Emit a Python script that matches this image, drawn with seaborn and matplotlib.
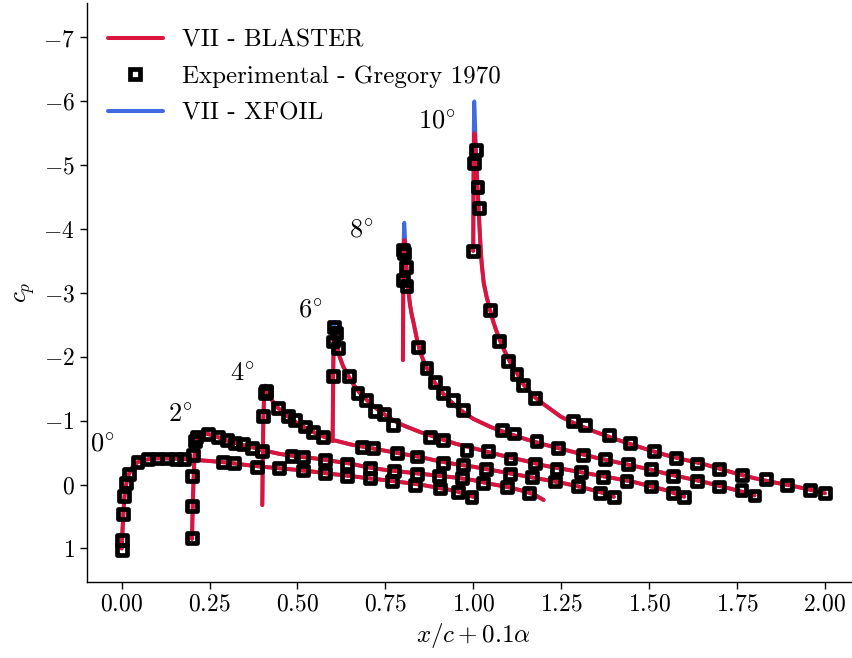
import numpy as np
import pandas as pd
import matplotlib
matplotlib.use("Agg")
import matplotlib.pyplot as plt
import seaborn as sns
from matplotlib.lines import Line2D

# ---------------- data (x/c, cp) per angle of attack ----------------
ALPHAS = [0, 2, 4, 6, 8, 10]

X_BL_0 = [0.0, 0.001, 0.0025, 0.005, 0.0075, 0.01, 0.015, 0.02, 0.03, 0.045, 0.06, 0.08, 0.1, 0.13, 0.16, 0.2,
          0.25, 0.3, 0.35, 0.4, 0.45, 0.5, 0.55, 0.6, 0.65, 0.7, 0.75, 0.8, 0.85, 0.9, 0.95, 1.0]
CP_BL_0 = [1.0, 0.9, 0.7, 0.45, 0.22, 0.08, -0.06, -0.16, -0.27, -0.35, -0.38, -0.40, -0.41, -0.41, -0.405, -0.39,
           -0.37, -0.345, -0.31, -0.28, -0.255, -0.23, -0.2, -0.165, -0.135, -0.10, -0.07, -0.035, 0.0, 0.05, 0.1, 0.19]
CP_XF_0 = [1.0, 0.9, 0.7, 0.45, 0.22, 0.08, -0.06, -0.16, -0.27, -0.35, -0.38, -0.40, -0.41, -0.41, -0.405, -0.39,
           -0.37, -0.345, -0.31, -0.28, -0.255, -0.23, -0.2, -0.165, -0.135, -0.10, -0.07, -0.035, 0.0, 0.05, 0.1, 0.19]

X_BL_2 = [0.0, 0.001, 0.0025, 0.005, 0.0075, 0.01, 0.015, 0.02, 0.03, 0.045, 0.06, 0.08, 0.1, 0.125, 0.15, 0.175,
          0.2, 0.25, 0.3, 0.35, 0.4, 0.45, 0.5, 0.55, 0.6, 0.65, 0.7, 0.75, 0.8, 0.85, 0.9, 0.95, 0.975, 1.0]
CP_BL_2 = [0.85, 0.6, 0.25, -0.15, -0.45, -0.62, -0.74, -0.79, -0.81, -0.79, -0.77, -0.73, -0.69, -0.65, -0.61, -0.58,
           -0.54, -0.48, -0.44, -0.41, -0.37, -0.33, -0.27, -0.23, -0.20, -0.17, -0.14, -0.11, -0.07, -0.01, 0.04, 0.11,
           0.16, 0.24]
CP_XF_2 = [0.85, 0.6, 0.25, -0.16, -0.47, -0.64, -0.76, -0.80, -0.82, -0.80, -0.77, -0.73, -0.69, -0.65, -0.61, -0.58,
           -0.54, -0.48, -0.44, -0.41, -0.37, -0.33, -0.27, -0.23, -0.20, -0.17, -0.14, -0.11, -0.07, -0.01, 0.04, 0.11,
           0.16, 0.24]

X_BL_4 = [0.0, 0.001, 0.002, 0.003, 0.005, 0.0075, 0.01, 0.0125, 0.015, 0.02, 0.03, 0.045, 0.06, 0.075, 0.1, 0.125,
          0.15, 0.175, 0.2, 0.25, 0.3, 0.35, 0.4, 0.45, 0.5, 0.55, 0.6, 0.65, 0.7, 0.75, 0.8, 0.85, 0.9, 0.95, 0.975, 1.0]
CP_BL_4 = [0.32, -0.2, -0.65, -1.0, -1.35, -1.5, -1.52, -1.5, -1.46, -1.4, -1.3, -1.2, -1.12, -1.06, -0.96, -0.88,
           -0.81, -0.75, -0.70, -0.63, -0.58, -0.53, -0.48, -0.43, -0.37, -0.32, -0.28, -0.23, -0.18, -0.13, -0.08,
           -0.03, 0.03, 0.10, 0.14, 0.19]
CP_XF_4 = [0.32, -0.2, -0.68, -1.05, -1.40, -1.55, -1.55, -1.51, -1.47, -1.4, -1.3, -1.2, -1.12, -1.06, -0.96, -0.88,
           -0.81, -0.75, -0.70, -0.63, -0.58, -0.53, -0.48, -0.43, -0.37, -0.32, -0.28, -0.23, -0.18, -0.13, -0.08,
           -0.03, 0.03, 0.10, 0.14, 0.19]

X_BL_6 = [0.0, 0.001, 0.002, 0.003, 0.004, 0.005, 0.0065, 0.008, 0.01, 0.0125, 0.015, 0.02, 0.03, 0.045, 0.06, 0.075,
          0.1, 0.125, 0.15, 0.175, 0.2, 0.25, 0.3, 0.35, 0.4, 0.45, 0.5, 0.55, 0.6, 0.65, 0.7, 0.75, 0.8, 0.85, 0.9,
          0.95, 0.975, 1.0]
CP_BL_6 = [-0.68, -1.3, -1.85, -2.2, -2.4, -2.45, -2.42, -2.36, -2.28, -2.2, -2.12, -2.0, -1.85, -1.70, -1.56, -1.45,
           -1.31, -1.19, -1.09, -1.0, -0.93, -0.82, -0.73, -0.64, -0.57, -0.50, -0.43, -0.37, -0.30, -0.25, -0.20,
           -0.15, -0.10, -0.05, 0.02, 0.09, 0.14, 0.19]
CP_XF_6 = [-0.68, -1.35, -1.95, -2.35, -2.52, -2.55, -2.48, -2.40, -2.30, -2.21, -2.12, -2.0, -1.85, -1.70, -1.56, -1.45,
           -1.31, -1.19, -1.09, -1.0, -0.93, -0.82, -0.73, -0.64, -0.57, -0.50, -0.43, -0.37, -0.30, -0.25, -0.20,
           -0.15, -0.10, -0.05, 0.02, 0.09, 0.14, 0.19]

X_BL_8 = [0.0, 0.0005, 0.001, 0.002, 0.003, 0.004, 0.005, 0.0065, 0.008, 0.01, 0.0125, 0.015, 0.02, 0.025, 0.03, 0.04,
          0.05, 0.06, 0.075, 0.09, 0.1, 0.115, 0.125, 0.15, 0.175, 0.2, 0.25, 0.3, 0.35, 0.4, 0.45, 0.5, 0.55, 0.6,
          0.65, 0.7, 0.75, 0.8, 0.85, 0.9, 0.95, 1.0]
CP_BL_8 = [-1.95, -2.6, -3.1, -3.55, -3.78, -3.83, -3.8, -3.7, -3.58, -3.4, -3.2, -3.05, -2.82, -2.66, -2.54, -2.27,
           -2.06, -1.92, -1.75, -1.60, -1.52, -1.42, -1.36, -1.23, -1.12, -1.03, -0.90, -0.80, -0.71, -0.63, -0.56,
           -0.49, -0.42, -0.36, -0.30, -0.24, -0.17, -0.11, -0.05, 0.02, 0.09, 0.17]
CP_XF_8 = [-1.95, -2.7, -3.3, -3.85, -4.05, -4.10, -4.0, -3.82, -3.65, -3.44, -3.22, -3.06, -2.82, -2.66, -2.54, -2.27,
           -2.06, -1.92, -1.75, -1.60, -1.52, -1.42, -1.36, -1.23, -1.12, -1.03, -0.90, -0.80, -0.71, -0.63, -0.56,
           -0.49, -0.42, -0.36, -0.30, -0.24, -0.17, -0.11, -0.05, 0.02, 0.09, 0.17]

X_BL_10 = [0.0, 0.0005, 0.001, 0.0015, 0.002, 0.003, 0.004, 0.005, 0.0065, 0.008, 0.01, 0.012, 0.015, 0.018, 0.021,
           0.024, 0.03, 0.038, 0.047, 0.057, 0.065, 0.075, 0.085, 0.1, 0.11, 0.125, 0.14, 0.15, 0.175, 0.2, 0.25, 0.3,
           0.35, 0.4, 0.45, 0.5, 0.55, 0.6, 0.65, 0.7, 0.75, 0.8, 0.85, 0.9, 0.95, 1.0]
CP_BL_10 = [-3.66, -4.3, -4.8, -5.15, -5.35, -5.5, -5.48, -5.4, -5.25, -5.1, -4.85, -4.65, -4.35, -4.0, -3.7, -3.46,
            -3.15, -2.94, -2.75, -2.55, -2.42, -2.27, -2.14, -1.97, -1.87, -1.74, -1.59, -1.52, -1.37, -1.26, -1.06,
            -0.93, -0.82, -0.72, -0.63, -0.54, -0.46, -0.39, -0.33, -0.25, -0.17, -0.10, -0.04, 0.01, 0.07, 0.135]
CP_XF_10 = [-3.66, -4.45, -5.1, -5.6, -5.88, -6.0, -5.9, -5.7, -5.45, -5.22, -4.93, -4.7, -4.38, -4.02, -3.71, -3.46,
            -3.15, -2.94, -2.75, -2.55, -2.42, -2.27, -2.14, -1.97, -1.87, -1.74, -1.59, -1.52, -1.37, -1.26, -1.06,
            -0.93, -0.82, -0.72, -0.63, -0.54, -0.46, -0.39, -0.33, -0.25, -0.17, -0.10, -0.04, 0.01, 0.07, 0.135]

# Experimental - Gregory 1970 (upper surface)
XE_0 = [0.0, 0.0, 0.004, 0.0065, 0.013, 0.021, 0.045, 0.076, 0.10, 0.128, 0.154, 0.178, 0.289, 0.32, 0.384, 0.448,
        0.515, 0.578, 0.64, 0.706, 0.77, 0.834, 0.905, 0.957, 0.995]
CPE_0 = [1.02, 0.87, 0.46, 0.18, -0.02, -0.17, -0.36, -0.40, -0.41, -0.41, -0.40, -0.40, -0.36, -0.335, -0.27, -0.26,
         -0.22, -0.18, -0.14, -0.10, -0.06, 0.0, 0.06, 0.11, 0.19]
XE_2 = [0.0, 0.0, 0.0, 0.004, 0.009, 0.013, 0.046, 0.075, 0.099, 0.122, 0.146, 0.17, 0.2, 0.283, 0.316, 0.378, 0.44,
        0.506, 0.575, 0.64, 0.703, 0.767, 0.828, 0.895, 0.959]
CPE_2 = [0.83, 0.34, -0.14, -0.46, -0.68, -0.75, -0.79, -0.75, -0.70, -0.65, -0.64, -0.57, -0.53, -0.45, -0.43, -0.39,
         -0.32, -0.26, -0.21, -0.17, -0.14, -0.10, -0.03, 0.04, 0.135]
XE_4 = [0.003, 0.008, 0.010, 0.012, 0.045, 0.074, 0.093, 0.121, 0.145, 0.173, 0.283, 0.316, 0.382, 0.439, 0.515, 0.572,
        0.636, 0.704, 0.766, 0.832, 0.899, 0.96, 1.0]
CPE_4 = [-1.08, -1.43, -1.47, -1.45, -1.20, -1.07, -1.01, -0.91, -0.83, -0.74, -0.595, -0.57, -0.50, -0.44, -0.335,
         -0.31, -0.24, -0.17, -0.115, -0.05, 0.02, 0.135, 0.19]
XE_6 = [0.0, 0.002, 0.005, 0.011, 0.016, 0.046, 0.071, 0.095, 0.12, 0.147, 0.172, 0.277, 0.315, 0.381, 0.443, 0.506,
        0.575, 0.637, 0.706, 0.77, 0.836, 0.905, 0.969, 1.0]
CPE_6 = [-1.70, -2.24, -2.47, -2.37, -2.14, -1.70, -1.43, -1.33, -1.15, -1.10, -0.93, -0.74, -0.70, -0.54, -0.52, -0.41,
         -0.33, -0.25, -0.20, -0.125, -0.06, 0.03, 0.135, 0.19]
XE_8 = [0.0, 0.001, 0.003, 0.009, 0.01, 0.042, 0.067, 0.091, 0.115, 0.143, 0.172, 0.281, 0.316, 0.38, 0.442, 0.513,
        0.575, 0.639, 0.705, 0.769, 0.837, 0.899, 0.963, 1.0]
CPE_8 = [-3.20, -3.67, -3.62, -3.41, -3.11, -2.15, -1.82, -1.61, -1.43, -1.33, -1.17, -0.86, -0.80, -0.68, -0.57, -0.46,
         -0.40, -0.32, -0.24, -0.14, -0.06, 0.03, 0.09, 0.17]
XE_10 = [0.0, 0.0012, 0.008, 0.012, 0.017, 0.047, 0.074, 0.098, 0.123, 0.142, 0.175, 0.284, 0.318, 0.386, 0.446, 0.514,
         0.576, 0.637, 0.699, 0.765, 0.832, 0.893, 0.958, 1.0]
CPE_10 = [-3.66, -5.04, -5.24, -4.66, -4.33, -2.73, -2.25, -1.94, -1.73, -1.56, -1.35, -1.0, -0.93, -0.78, -0.65, -0.53,
          -0.42, -0.33, -0.24, -0.15, -0.09, 0.0, 0.09, 0.135]

# angle annotation positions (shifted x, cp)
LABEL_X = [-0.054, 0.166, 0.344, 0.537, 0.682, 0.897]
LABEL_Y = [-0.63, -1.09, -1.73, -2.72, -3.98, -5.69]

X_BL = [X_BL_0, X_BL_2, X_BL_4, X_BL_6, X_BL_8, X_BL_10]
CP_BL = [CP_BL_0, CP_BL_2, CP_BL_4, CP_BL_6, CP_BL_8, CP_BL_10]
CP_XF = [CP_XF_0, CP_XF_2, CP_XF_4, CP_XF_6, CP_XF_8, CP_XF_10]
XE = [XE_0, XE_2, XE_4, XE_6, XE_8, XE_10]
CPE = [CPE_0, CPE_2, CPE_4, CPE_6, CPE_8, CPE_10]

# ---------------- tables ----------------
line_rows = []
for a, xs, cb, cx in zip(ALPHAS, X_BL, CP_BL, CP_XF):
    for i, (x, b, f) in enumerate(zip(xs, cb, cx)):
        line_rows.append({"alpha": a, "i": i, "xs": x + 0.1 * a, "bl": b, "xf": f})
lines = pd.DataFrame(line_rows)

exp_rows = []
for a, xs, cs in zip(ALPHAS, XE, CPE):
    for x, c in zip(xs, cs):
        exp_rows.append({"alpha": a, "xs": x + 0.1 * a, "cp": c})
exp = pd.DataFrame(exp_rows)

# ---------------- style ----------------
sns.set_theme(style="ticks")
plt.rcParams.update({
    "mathtext.fontset": "cm",
    "axes.formatter.use_mathtext": True,
    "axes.linewidth": 1.0,
    "xtick.major.size": 5,
    "ytick.major.size": 5,
    "xtick.major.width": 1.0,
    "ytick.major.width": 1.0,
    "xtick.labelsize": 17,
    "ytick.labelsize": 17,
    "xtick.color": "black",
    "ytick.color": "black",
    "axes.edgecolor": "black",
    "text.color": "black",
    "axes.labelcolor": "black",
})
plt.rcParams["font.family"] = ["cmr10", "DejaVu Serif"]

RED = "#DC143C"
BLUE = "#4169E1"

fig = plt.figure(figsize=(8.52, 6.58), dpi=100)
ax = fig.add_axes([86.5 / 852, 76.3 / 658, 773.5 / 852, 578.7 / 658])

sns.lineplot(data=lines, x="xs", y="xf", units="alpha", estimator=None, sort=False,
             color=BLUE, lw=2.7, ax=ax, legend=False, zorder=2)
sns.lineplot(data=lines, x="xs", y="bl", units="alpha", estimator=None, sort=False,
             color=RED, lw=2.9, ax=ax, legend=False, zorder=3)
sns.scatterplot(data=exp, x="xs", y="cp", marker="s", s=50, facecolor="none",
                edgecolor="black", linewidth=3.4, ax=ax, legend=False, zorder=5)

for a, lx, ly in zip(ALPHAS, LABEL_X, LABEL_Y):
    ax.text(lx, ly, rf"${a}^{{\circ}}$", ha="center", va="center", fontsize=19)

ax.set_xlim(-0.1, 2.1)
ax.set_ylim(1.52, -7.54)
ax.set_xticks(np.arange(0, 2.01, 0.25))
ax.set_yticks(np.arange(-7, 2, 1))
ax.set_xlabel(r"$x/c + 0.1\alpha$", fontsize=18)
ax.set_ylabel(r"$c_p$", fontsize=18)
sns.despine(ax=ax)

handles = [
    Line2D([], [], color=RED, lw=2.9),
    Line2D([], [], ls="none", marker="s", ms=7.0, mfc="none", mec="black", mew=3.4),
    Line2D([], [], color=BLUE, lw=2.9),
]
labels = ["VII - BLASTER", "Experimental - Gregory 1970", "VII - XFOIL"]
ax.legend(handles, labels, loc="upper left", bbox_to_anchor=(0.0, 0.991), frameon=False,
          fontsize=18, handlelength=2.2, borderaxespad=0.45, handletextpad=0.75, labelspacing=0.55)

fig.savefig("out.png", dpi=100)
